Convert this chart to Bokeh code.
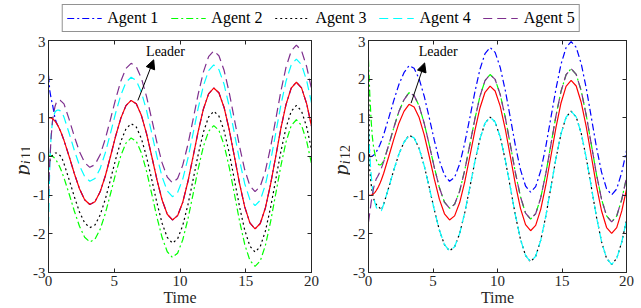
from bokeh.plotting import figure
from bokeh.models import Range1d, FixedTicker, LinearAxis, Legend, LegendItem, Label, Arrow, NormalHead
from bokeh.layouts import column, row
from bokeh.core.properties import value
from bokeh.embed import file_html
from bokeh.resources import INLINE

FONT = "Liberation Serif"
AX = "#262626"

# ---------------- data ----------------
time = [0, 0.1, 0.2, 0.3, 0.393, 0.5, 0.6, 0.7, 0.785, 0.9, 1.0, 1.178, 1.571, 1.963, 2.356, 2.749,
        3.142, 3.534, 3.927, 4.32, 4.712, 5.105, 5.498, 5.89, 6.283, 6.676, 7.069, 7.461, 7.854,
        8.247, 8.639, 9.032, 9.425, 9.817, 10.21, 10.603, 10.996, 11.388, 11.781, 12.174, 12.566,
        12.959, 13.352, 13.744, 14.137, 14.53, 14.923, 15.315, 15.708, 16.101, 16.493, 16.886,
        17.279, 17.671, 18.064, 18.457, 18.85, 19.242, 19.635, 20.0]

# panel 1: p_i11
leader_11 = [1.000, 1.003, 0.995, 0.977, 0.952, 0.911, 0.863, 0.806, 0.749, 0.665, 0.581, 0.417, 0.0,
             -0.440, -0.834, -1.118, -1.240, -1.170, -0.914, -0.505, 0.0, 0.525, 0.988, 1.316, 1.450,
             1.362, 1.059, 0.583, 0.0, -0.601, -1.126, -1.493, -1.640, -1.530, -1.183, -0.647, 0.0,
             0.659, 1.229, 1.621, 1.770, 1.647, 1.269, 0.692, 0.0, -0.702, -1.304, -1.717, -1.870,
             -1.733, -1.331, -0.723, 0.0, 0.728, 1.349, 1.769, 1.920, 1.776, 1.360, 0.785]
agent1_11 = [2.10, 1.70, 1.50, 1.35, 1.18, 0.98, 0.88, 0.81, 0.749, 0.665, 0.581, 0.417, 0.0,
             -0.440, -0.834, -1.118, -1.240, -1.170, -0.914, -0.505, 0.0, 0.525, 0.988, 1.316, 1.450,
             1.362, 1.059, 0.583, 0.0, -0.601, -1.126, -1.493, -1.640, -1.530, -1.183, -0.647, 0.0,
             0.659, 1.229, 1.621, 1.770, 1.647, 1.269, 0.692, 0.0, -0.702, -1.304, -1.717, -1.870,
             -1.733, -1.331, -0.723, 0.0, 0.728, 1.349, 1.769, 1.920, 1.776, 1.360, 0.785]
agent2_11 = [0.03, 0.033, 0.025, 0.007, -0.018, -0.059, -0.107, -0.164, -0.221, -0.305, -0.389, -0.553,
             -0.97, -1.41, -1.804, -2.088, -2.21, -2.14, -1.884, -1.475, -0.97, -0.445, 0.018, 0.346,
             0.48, 0.392, 0.089, -0.387, -0.97, -1.571, -2.096, -2.463, -2.61, -2.5, -2.153, -1.617,
             -0.97, -0.311, 0.259, 0.651, 0.8, 0.677, 0.299, -0.278, -0.97, -1.672, -2.274, -2.687,
             -2.84, -2.703, -2.301, -1.693, -0.97, -0.242, 0.379, 0.799, 0.95, 0.806, 0.39, -0.185]
agent3_11 = [-0.25, -0.12, -0.03, 0.03, 0.07, 0.09, 0.09, 0.07, 0.05, 0.02, -0.02, -0.183, -0.6,
             -1.04, -1.434, -1.718, -1.84, -1.77, -1.514, -1.105, -0.6, -0.075, 0.388, 0.716, 0.85,
             0.762, 0.459, -0.017, -0.6, -1.201, -1.726, -2.093, -2.24, -2.13, -1.783, -1.247, -0.6,
             0.059, 0.629, 1.021, 1.17, 1.047, 0.669, 0.092, -0.6, -1.302, -1.904, -2.317, -2.47,
             -2.333, -1.931, -1.323, -0.6, 0.128, 0.749, 1.169, 1.32, 1.176, 0.76, 0.185]
agent4_11 = [-1.80, -0.20, 0.55, 0.90, 1.06, 1.15, 1.19, 1.20, 1.20, 1.18, 1.16, 1.017, 0.6, 0.16,
             -0.234, -0.518, -0.64, -0.57, -0.314, 0.095, 0.6, 1.125, 1.588, 1.916, 2.05, 1.962,
             1.659, 1.183, 0.6, -0.001, -0.526, -0.893, -1.04, -0.93, -0.583, -0.047, 0.6, 1.259,
             1.829, 2.221, 2.37, 2.247, 1.869, 1.292, 0.6, -0.102, -0.704, -1.117, -1.27, -1.133,
             -0.731, -0.123, 0.6, 1.328, 1.949, 2.369, 2.52, 2.376, 1.96, 1.385]
agent5_11 = [-1.00, -0.10, 0.50, 0.90, 1.12, 1.30, 1.40, 1.45, 1.46, 1.45, 1.42, 1.36, 0.96, 0.52,
             0.126, -0.158, -0.28, -0.21, 0.046, 0.455, 0.96, 1.485, 1.948, 2.276, 2.41, 2.322,
             2.019, 1.543, 0.96, 0.359, -0.166, -0.533, -0.68, -0.57, -0.223, 0.313, 0.96, 1.619,
             2.189, 2.581, 2.73, 2.607, 2.229, 1.652, 0.96, 0.258, -0.344, -0.757, -0.91, -0.773,
             -0.371, 0.237, 0.96, 1.688, 2.309, 2.729, 2.88, 2.736, 2.32, 1.745]

# panel 2: p_i12
leader_12 = [-1.000, -1.006, -1.002, -0.987, -0.965, -0.927, -0.880, -0.825, -0.769, -0.684, -0.600,
             -0.433, 0.0, 0.450, 0.862, 1.167, 1.350, 1.281, 1.006, 0.559, 0.0, -0.586, -1.109,
             -1.482, -1.640, -1.536, -1.191, -0.654, 0.0, 0.671, 1.255, 1.661, 1.820, 1.693, 1.304,
             0.711, 0.0, -0.721, -1.340, -1.763, -1.920, -1.780, -1.366, -0.743, 0.0, 0.747, 1.384,
             1.815, 1.970, 1.823, 1.396, 0.757, 0.0, -0.759, -1.403, -1.837, -1.990, -1.839, -1.407,
             -0.850]
agent1_12 = [0.0, -0.006, -0.002, 0.013, 0.035, 0.073, 0.12, 0.175, 0.231, 0.316, 0.4, 0.567, 1.0,
             1.45, 1.862, 2.167, 2.35, 2.281, 2.006, 1.559, 1.0, 0.414, -0.109, -0.482, -0.64,
             -0.536, -0.191, 0.346, 1.0, 1.671, 2.255, 2.661, 2.82, 2.693, 2.304, 1.711, 1.0, 0.279,
             -0.34, -0.763, -0.92, -0.78, -0.366, 0.257, 1.0, 1.747, 2.384, 2.815, 2.97, 2.823,
             2.396, 1.757, 1.0, 0.241, -0.403, -0.837, -0.99, -0.839, -0.407, 0.15]
agent2_12 = [2.50, 1.60, 0.95, 0.50, 0.25, 0.06, -0.08, -0.17, -0.21, -0.22, -0.20, -0.12, 0.3, 0.75,
             1.162, 1.467, 1.65, 1.581, 1.306, 0.859, 0.3, -0.286, -0.809, -1.182, -1.34, -1.236,
             -0.891, -0.354, 0.3, 0.971, 1.555, 1.961, 2.12, 1.993, 1.604, 1.011, 0.3, -0.421,
             -1.04, -1.463, -1.62, -1.48, -1.066, -0.443, 0.3, 1.047, 1.684, 2.115, 2.27, 2.123,
             1.696, 1.057, 0.3, -0.459, -1.103, -1.537, -1.69, -1.539, -1.107, -0.55]
agent3_12 = [2.00, -0.35, -0.70, -0.95, -1.08, -1.18, -1.24, -1.27, -1.30, -1.34, -1.38, -1.233, -0.8,
             -0.35, 0.062, 0.367, 0.55, 0.481, 0.206, -0.241, -0.8, -1.386, -1.909, -2.282, -2.44,
             -2.336, -1.991, -1.454, -0.8, -0.129, 0.455, 0.861, 1.02, 0.893, 0.504, -0.089, -0.8,
             -1.521, -2.14, -2.563, -2.72, -2.58, -2.166, -1.543, -0.8, -0.053, 0.584, 1.015, 1.17,
             1.023, 0.596, -0.043, -0.8, -1.559, -2.203, -2.637, -2.79, -2.639, -2.207, -1.65]
agent4_12 = [0.68, 0.0, -0.45, -0.80, -1.02, -1.20, -1.31, -1.37, -1.39, -1.40, -1.40, -1.233, -0.8,
             -0.35, 0.062, 0.367, 0.55, 0.481, 0.206, -0.241, -0.8, -1.386, -1.909, -2.282, -2.44,
             -2.336, -1.991, -1.454, -0.8, -0.129, 0.455, 0.861, 1.02, 0.893, 0.504, -0.089, -0.8,
             -1.521, -2.14, -2.563, -2.72, -2.58, -2.166, -1.543, -0.8, -0.053, 0.584, 1.015, 1.17,
             1.023, 0.596, -0.043, -0.8, -1.559, -2.203, -2.637, -2.79, -2.639, -2.207, -1.65]
agent5_12 = [-1.70, -1.45, -1.20, -0.98, -0.82, -0.68, -0.58, -0.525, -0.469, -0.384, -0.30, -0.133,
             0.3, 0.75, 1.162, 1.467, 1.65, 1.581, 1.306, 0.859, 0.3, -0.286, -0.809, -1.182, -1.34,
             -1.236, -0.891, -0.354, 0.3, 0.971, 1.555, 1.961, 2.12, 1.993, 1.604, 1.011, 0.3,
             -0.421, -1.04, -1.463, -1.62, -1.48, -1.066, -0.443, 0.3, 1.047, 1.684, 2.115, 2.27,
             2.123, 1.696, 1.057, 0.3, -0.459, -1.103, -1.537, -1.69, -1.539, -1.107, -0.55]

agent_names = ["Agent 1", "Agent 2", "Agent 3", "Agent 4", "Agent 5"]
agent_colors = ["#0000FF", "#00FF00", "#000000", "#00FFFF", "#7E2F8E"]
agent_dashes = ["7 3 2 3", "7 3 2 3", "2 3", "9 5", "9 5"]
leader_color = "#FF0000"

x_ticks = [0, 5, 10, 15, 20]
x_tick_labels = ["0", "5", "10", "15", "20"]
y_ticks = [-3, -2, -1, 0, 1, 2, 3]
y_tick_labels = ["-3", "-2", "-1", "0", "1", "2", "3"]
x_label = "Time"
y_label_main = "p"
y_label_subs = [("i", "11"), ("i", "12")]

# "Leader" annotation: text position, arrow tail, arrow head (data units)
leader_text_xy = [(8.9, 2.72), (5.4, 2.72)]
arrow_tail_xy = [(6.8, 1.45), (3.3, 1.38)]
arrow_head_xy = [(8.0, 2.5), (4.35, 2.42)]

LW = 1.2
ROW_H = 272


def style_axis(ax, ticks, labels, show):
    ax.ticker = FixedTicker(ticks=ticks)
    ax.axis_line_color = AX
    ax.axis_line_width = 1
    ax.major_tick_line_color = AX
    ax.major_tick_line_width = 1
    ax.major_tick_in = 4
    ax.major_tick_out = 0
    ax.minor_tick_line_color = None
    ax.major_label_text_font = FONT
    ax.major_label_text_color = AX
    if show:
        ax.major_label_overrides = {t: l for t, l in zip(ticks, labels)}
        ax.major_label_text_font_size = "15px"
        ax.major_label_standoff = 3
    else:
        ax.major_label_overrides = {t: "" for t in ticks}
        ax.major_label_text_font_size = "0px"
        ax.major_label_standoff = 0


def make_panel(idx, agents, leader, width, border_right):
    p = figure(width=width, height=ROW_H, x_range=Range1d(0, 20), y_range=Range1d(-3, 3),
               output_backend="svg", toolbar_location=None,
               min_border_left=17, min_border_right=border_right,
               min_border_top=4, min_border_bottom=35)
    p.xgrid.visible = False
    p.ygrid.visible = False
    p.outline_line_color = AX
    p.background_fill_color = "white"
    p.border_fill_color = "white"

    style_axis(p.xaxis[0], x_ticks, x_tick_labels, True)
    p.xaxis[0].axis_label = x_label
    p.xaxis[0].axis_label_text_font = FONT
    p.xaxis[0].axis_label_text_font_size = "16px"
    p.xaxis[0].axis_label_text_font_style = "normal"
    p.xaxis[0].axis_label_text_color = AX
    p.xaxis[0].axis_label_standoff = 0
    style_axis(p.yaxis[0], y_ticks, y_tick_labels, True)
    top = LinearAxis()
    style_axis(top, x_ticks, x_tick_labels, False)
    p.add_layout(top, "above")
    right = LinearAxis()
    style_axis(right, y_ticks, y_tick_labels, False)
    p.add_layout(right, "right")

    for ys, c, d in zip(agents, agent_colors, agent_dashes):
        p.line(time, ys, line_color=c, line_dash=d, line_width=LW)
    p.line(time, leader, line_color=leader_color, line_width=LW)

    tx, ty = leader_text_xy[idx]
    p.add_layout(Label(x=tx, y=ty, text="Leader", text_font=FONT, text_font_size="14px",
                       text_color="black", text_align="center", text_baseline="middle"))
    (x0, y0), (x1, y1) = arrow_tail_xy[idx], arrow_head_xy[idx]
    p.add_layout(Arrow(end=NormalHead(size=9, fill_color="black", line_color="black", line_width=1),
                       x_start=x0, y_start=y0, x_end=x1, y_end=y1,
                       line_color="black", line_width=1))
    return p


def make_ylabel(idx, width, x_base):
    f = figure(width=width, height=ROW_H, x_range=Range1d(0, width), y_range=Range1d(0, ROW_H),
               output_backend="svg", toolbar_location=None, min_border=0,
               x_axis_type=None, y_axis_type=None, outline_line_color=None)
    f.xgrid.visible = False
    f.ygrid.visible = False
    f.background_fill_color = "white"
    f.border_fill_color = "white"
    sub_i, sub_n = y_label_subs[idx]
    f.text(x=[x_base], y=[114], text=[y_label_main], angle=1.5708, text_font=value(FONT),
           text_font_style="italic", text_font_size="22px", text_color=AX,
           text_align="left", text_baseline="alphabetic")
    f.text(x=[x_base + 4.5], y=[127], text=[sub_i], angle=1.5708, text_font=value(FONT),
           text_font_style="italic", text_font_size="14px", text_color=AX,
           text_align="left", text_baseline="alphabetic")
    f.text(x=[x_base + 4.5], y=[133], text=[sub_n], angle=1.5708, text_font=value(FONT),
           text_font_style="normal", text_font_size="14px", text_color=AX,
           text_align="left", text_baseline="alphabetic")
    return f


yl1 = make_ylabel(0, 30, 21)
p1 = make_panel(0, [agent1_11, agent2_11, agent3_11, agent4_11, agent5_11], leader_11, 290, 9)
yl2 = make_ylabel(1, 30, 20)
p2 = make_panel(1, [agent1_12, agent2_12, agent3_12, agent4_12, agent5_12], leader_12, 291, 15)

# legend strip
lf = figure(width=641, height=308 - ROW_H, x_range=Range1d(0, 1), y_range=Range1d(0, 1),
            output_backend="svg", toolbar_location=None, min_border=0,
            x_axis_type=None, y_axis_type=None, outline_line_color=None)
lf.xgrid.visible = False
lf.ygrid.visible = False
lf.background_fill_color = "white"
lf.border_fill_color = "white"
items = []
for name, c, d in zip(agent_names, agent_colors, agent_dashes):
    r = lf.line(x=[-5, -4], y=[-5, -5], line_color=c, line_dash=d, line_width=LW)
    items.append(LegendItem(label=name, renderers=[r]))
leg = Legend(items=items, orientation="horizontal", location="center",
             label_text_font=FONT, label_text_font_size="16px", label_text_color="black",
             glyph_width=35, glyph_height=16, label_height=16, label_standoff=6, spacing=12,
             padding=4, margin=0, border_line_color=AX, border_line_width=1,
             background_fill_color="white", background_fill_alpha=1)
lf.add_layout(leg, "center")

layout = column(lf, row(yl1, p1, yl2, p2))
open("out.html", "w").write(file_html(layout, INLINE))
